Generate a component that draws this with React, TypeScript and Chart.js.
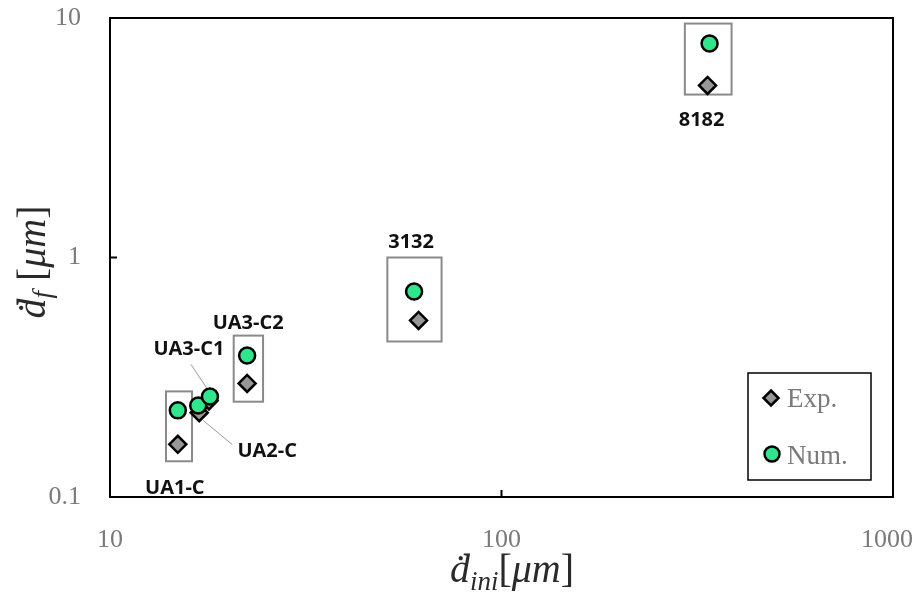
import React, { useEffect, useRef } from 'react';
import { Chart, registerables } from 'chart.js';
Chart.register(...registerables);

const W = 917;
const H = 599;

// Data
const groups = ['UA1-C', 'UA2-C', 'UA3-C1', 'UA3-C2', '3132', '8182'];
const expX = [14.9, 16.9, 17.9, 22.4, 61.4, 336];
const expY = [0.166, 0.225, 0.252, 0.298, 0.546, 5.23];
const numX = [14.9, 16.8, 18.0, 22.4, 59.8, 340];
const numY = [0.23, 0.241, 0.263, 0.39, 0.721, 7.83];

// Boxes around grouped points
const boxNames = ['UA1-C', 'UA3-C2', '3132', '8182'];
const boxXMin = [13.9, 20.7, 51.1, 294];
const boxXMax = [16.2, 24.6, 70.3, 387];
const boxYMin = [0.141, 0.25, 0.446, 4.79];
const boxYMax = [0.276, 0.472, 1.0, 9.48];

const xTicks = [10, 100, 1000];
const yTicks = [0.1, 1, 10];
const xTickLabels = ['10', '100', '1000'];
const yTickLabels = ['0.1', '1', '10'];

const seriesNames = ['Exp.', 'Num.'];

// label placement: offsets in px from the anchor point of each group
const labelOffX = [-3, 69, -21, 1, -3, -6];
const labelOffY = [44, 46, -47, -32, -49, 35];
const labelAnchor = ['exp', 'num', 'num', 'num', 'num', 'exp'];

const SERIF = '"Liberation Serif", "DejaVu Serif", serif';
const SANS = '"Open Sans", "Noto Sans", sans-serif';
const GREEN = '#2fe68c';
const GRAY = '#979797';
const TICK_GRAY = '#7a7a7a';

function diamond(ctx: CanvasRenderingContext2D, x: number, y: number, r: number) {
  ctx.beginPath();
  ctx.moveTo(x, y - r);
  ctx.lineTo(x + r, y);
  ctx.lineTo(x, y + r);
  ctx.lineTo(x - r, y);
  ctx.closePath();
  ctx.fillStyle = GRAY;
  ctx.fill();
  ctx.lineWidth = 2.5;
  ctx.strokeStyle = '#000';
  ctx.stroke();
}
function circle(ctx: CanvasRenderingContext2D, x: number, y: number, r: number) {
  ctx.beginPath();
  ctx.arc(x, y, r, 0, Math.PI * 2);
  ctx.fillStyle = GREEN;
  ctx.fill();
  ctx.lineWidth = 2.5;
  ctx.strokeStyle = '#000';
  ctx.stroke();
}

type Seg = { t: string; font: string; dy: number };

function drawSegs(ctx: CanvasRenderingContext2D, segs: Seg[], cx: number, baseY: number) {
  let total = 0;
  const widths = segs.map((s) => {
    ctx.font = s.font;
    const w = ctx.measureText(s.t).width;
    total += w;
    return w;
  });
  let x = cx - total / 2;
  ctx.textAlign = 'left';
  ctx.textBaseline = 'alphabetic';
  segs.forEach((s, i) => {
    ctx.font = s.font;
    ctx.fillText(s.t, x, baseY + s.dy);
    x += widths[i];
  });
}

const overlay = {
  id: 'overlay',
  beforeDatasetsDraw(chart: any) {
    const { ctx, scales } = chart;
    const xs = scales.x;
    const ys = scales.y;
    ctx.save();
    ctx.strokeStyle = '#8a8a8a';
    ctx.lineWidth = 2;
    for (let i = 0; i < boxNames.length; i++) {
      const x0 = xs.getPixelForValue(boxXMin[i]);
      const x1 = xs.getPixelForValue(boxXMax[i]);
      const y0 = ys.getPixelForValue(boxYMax[i]);
      const y1 = ys.getPixelForValue(boxYMin[i]);
      ctx.strokeRect(x0, y0, x1 - x0, y1 - y0);
    }
    // leader lines
    ctx.strokeStyle = '#9a9a9a';
    ctx.lineWidth = 1;
    const c1x = xs.getPixelForValue(numX[2]);
    const c1y = ys.getPixelForValue(numY[2]);
    ctx.beginPath();
    ctx.moveTo(c1x - 19, c1y - 32);
    ctx.lineTo(c1x - 3, c1y - 8);
    ctx.stroke();
    const c2x = xs.getPixelForValue(numX[1]);
    const c2y = ys.getPixelForValue(numY[1]);
    ctx.beginPath();
    ctx.moveTo(c2x + 5, c2y + 15);
    ctx.lineTo(c2x + 34, c2y + 39);
    ctx.stroke();
    ctx.restore();
  },
  afterDatasetsDraw(chart: any) {
    const { ctx, scales, chartArea } = chart;
    const xs = scales.x;
    const ys = scales.y;
    ctx.save();
    // frame
    ctx.strokeStyle = '#000';
    ctx.lineWidth = 2;
    ctx.strokeRect(chartArea.left, chartArea.top, chartArea.right - chartArea.left, chartArea.bottom - chartArea.top);
    // inner ticks
    ctx.beginPath();
    const tx = xs.getPixelForValue(100);
    ctx.moveTo(tx, chartArea.bottom);
    ctx.lineTo(tx, chartArea.bottom - 7);
    const ty = ys.getPixelForValue(1);
    ctx.moveTo(chartArea.left, ty);
    ctx.lineTo(chartArea.left + 7, ty);
    ctx.stroke();

    // x tick labels (kept inside the canvas like the reference)
    ctx.fillStyle = TICK_GRAY;
    ctx.font = `26px ${SERIF}`;
    ctx.textAlign = 'left';
    ctx.textBaseline = 'middle';
    xTicks.forEach((v, i) => {
      const w = ctx.measureText(xTickLabels[i]).width;
      let left = xs.getPixelForValue(v) - w / 2;
      if (left + w > W - 4) left = W - 4 - w;
      ctx.fillText(xTickLabels[i], left, chartArea.bottom + 43);
    });

    // group labels
    ctx.fillStyle = '#111';
    ctx.font = `bold 20px ${SANS}`;
    ctx.textAlign = 'center';
    ctx.textBaseline = 'middle';
    for (let i = 0; i < groups.length; i++) {
      const ax = labelAnchor[i] === 'exp' ? expX[i] : numX[i];
      const ay = labelAnchor[i] === 'exp' ? expY[i] : numY[i];
      const px = xs.getPixelForValue(ax) + labelOffX[i];
      const py = ys.getPixelForValue(ay) + labelOffY[i];
      ctx.fillText(groups[i], px, py);
    }

    // legend
    const lx = chartArea.right - 145;
    const ly = chartArea.bottom - 124;
    ctx.strokeStyle = '#000';
    ctx.lineWidth = 1.5;
    ctx.strokeRect(lx, ly, 123, 107);
    diamond(ctx, lx + 23, ly + 25, 7.5);
    circle(ctx, lx + 24, ly + 81, 7.5);
    ctx.fillStyle = TICK_GRAY;
    ctx.font = `27px ${SERIF}`;
    ctx.textAlign = 'left';
    ctx.textBaseline = 'alphabetic';
    ctx.fillText(seriesNames[0], lx + 39, ly + 34);
    ctx.fillText(seriesNames[1], lx + 39, ly + 91);

    // axis titles
    ctx.fillStyle = '#2a2a2a';
    const big = `italic 40px ${SERIF}`;
    const bigUp = `40px ${SERIF}`;
    const small = `italic 27px ${SERIF}`;
    drawSegs(
      ctx,
      [
        { t: '\u1E0B', font: big, dy: 0 },
        { t: 'ini', font: small, dy: 8 },
        { t: '[', font: bigUp, dy: 0 },
        { t: '\u03BCm', font: big, dy: 0 },
        { t: ']', font: bigUp, dy: 0 },
      ],
      512,
      582,
    );
    ctx.save();
    ctx.translate(45, 262);
    ctx.rotate(-Math.PI / 2);
    drawSegs(
      ctx,
      [
        { t: '\u1E0B', font: big, dy: 0 },
        { t: 'f', font: small, dy: 6 },
        { t: ' [', font: bigUp, dy: 0 },
        { t: '\u03BCm', font: big, dy: 0 },
        { t: ']', font: bigUp, dy: 0 },
      ],
      0,
      0,
    );
    ctx.restore();

    ctx.restore();
  },
};

export default function App() {
  const ref = useRef<HTMLCanvasElement>(null);
  useEffect(() => {
    document.body.style.margin = '0';
    const canvas = ref.current!;
    const chart = new Chart(canvas, {
      type: 'scatter',
      data: {
        datasets: [
          {
            label: seriesNames[0],
            data: expX.map((x, i) => ({ x, y: expY[i] })),
            pointStyle: 'rectRot',
            pointRadius: 8.5,
            backgroundColor: GRAY,
            borderColor: '#000',
            borderWidth: 2.5,
            order: 2,
          },
          {
            label: seriesNames[1],
            data: numX.map((x, i) => ({ x, y: numY[i] })),
            pointStyle: 'circle',
            pointRadius: 8,
            backgroundColor: GREEN,
            borderColor: '#000',
            borderWidth: 2.5,
            order: 1,
          },
        ],
      },
      options: {
        responsive: false,
        animation: false,
        layout: { padding: { top: 18, right: 24, left: 0, bottom: 0 } },
        plugins: { legend: { display: false }, tooltip: { enabled: false } },
        scales: {
          x: {
            type: 'logarithmic',
            min: 10,
            max: 1000,
            afterBuildTicks: (s: any) => {
              s.ticks = xTicks.map((v) => ({ value: v }));
            },
            afterFit: (s: any) => {
              s.height = 102;
              s.paddingLeft = 0;
              s.paddingRight = 0;
            },
            ticks: { display: false },
            grid: { display: false },
            border: { display: false },
          },
          y: {
            type: 'logarithmic',
            min: 0.1,
            max: 10,
            afterBuildTicks: (s: any) => {
              s.ticks = yTicks.map((v) => ({ value: v }));
            },
            afterFit: (s: any) => {
              s.width = 110;
              s.paddingTop = 0;
              s.paddingBottom = 0;
            },
            ticks: {
              autoSkip: false,
              padding: 21,
              color: TICK_GRAY,
              font: { family: SERIF, size: 26 },
              callback: (v: any) => {
                const idx = yTicks.findIndex((t) => Math.abs(t - Number(v)) < 1e-9);
                return idx >= 0 ? yTickLabels[idx] : '';
              },
            },
            grid: { display: false },
            border: { display: false },
          },
        },
      },
      plugins: [overlay],
    } as any);
    return () => chart.destroy();
  }, []);
  return (
    <div style={{ width: W, height: H, position: 'relative' }}>
      <canvas ref={ref} width={W} height={H} />
    </div>
  );
}
